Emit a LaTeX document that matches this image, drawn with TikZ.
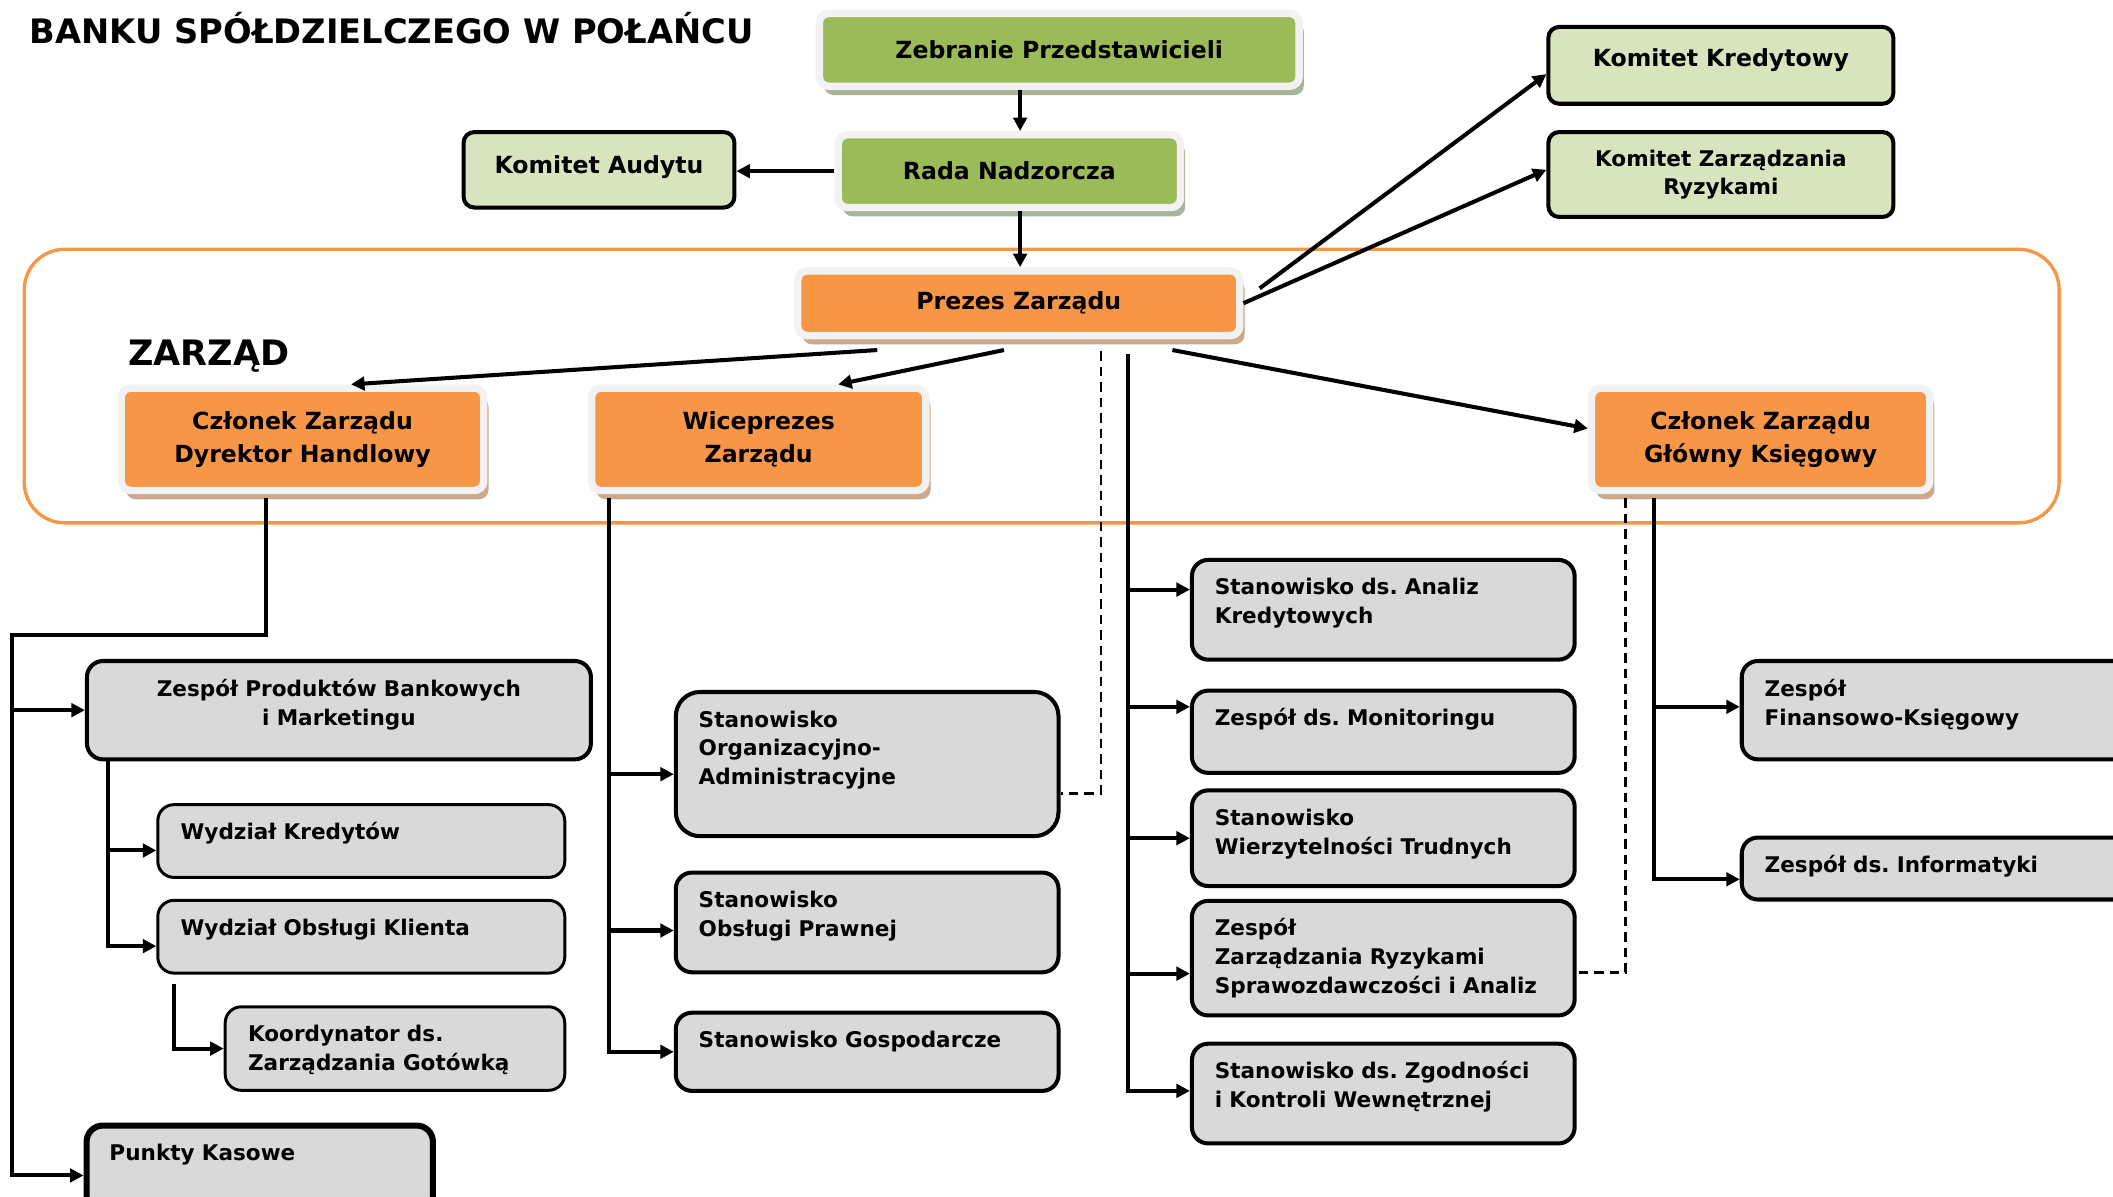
\documentclass[tikz,border=0pt]{standalone}
\usepackage{fontspec}
\setmainfont{DejaVu Sans}
\usetikzlibrary{arrows.meta,positioning,calc,shadows}
\frenchspacing

\definecolor{zgreen}{HTML}{9BBB59}
\definecolor{zlightgreen}{HTML}{D7E4BD}
\definecolor{zorange}{HTML}{F79646}
\definecolor{zgray}{HTML}{D9D9D9}
\definecolor{zrim}{HTML}{F2F2F2}
\definecolor{orangeshade}{HTML}{CDA88C}
\definecolor{greenshade}{HTML}{A9B59B}

\tikzset{
  boxfont/.style={font=\bfseries\fontsize{17.5}{24.5}\selectfont},
  smallfont/.style={font=\bfseries\fontsize{16}{21.5}\selectfont},
  rimbox/.style={boxfont, draw=zrim, line width=5.5pt, rounded corners=7pt, align=center, inner sep=0pt,
    drop shadow={shadow xshift=3.5pt, shadow yshift=-6.5pt, fill=#1, opacity=1}},
  greenbox/.style={rimbox=greenshade, fill=zgreen},
  orangebox/.style={rimbox=orangeshade, fill=zorange},
  komitet/.style={boxfont, draw=black, line width=3pt, fill=zlightgreen, rounded corners=8pt, align=center, inner sep=0pt},
  graybox/.style={smallfont, draw=black, line width=3pt, fill=zgray, rounded corners=12pt, anchor=north west,
    align=left, inner xsep=17pt, inner ysep=0pt, text height=26pt},
  conn/.style={line width=3pt},
  arr/.style={conn, -{Triangle[length=10pt,width=10pt]}},
  dashline/.style={line width=2pt, dash pattern=on 7pt off 4.5pt},
}

\begin{document}
\begin{tikzpicture}[x=1pt, y=-1pt]
  \useasboundingbox (0,0) rectangle (1568,888);
  \clip (0,0) rectangle (1568,888);

  % title and board frame
  \node (title) [anchor=west, inner sep=0pt, font=\bfseries\fontsize{25}{30}\selectfont] at (22,21) {BANKU SPÓŁDZIELCZEGO W POŁAŃCU};
  \draw[draw=zorange, line width=2.5pt, rounded corners=30pt] (18,185) rectangle (1528,388);
  \node (zarzad) [anchor=west, inner sep=0pt, font=\bfseries\fontsize{26}{30}\selectfont] at (95,264) {ZARZĄD};

  % supervisory bodies
  \node (zebranie) [greenbox, minimum width=356pt, minimum height=54pt] at (786,37) {Zebranie Przedstawicieli};
  \node (rada) [greenbox, minimum width=254pt, minimum height=54pt] at (749,127) {Rada Nadzorcza};
  \node (audyt) [komitet, minimum width=201pt, minimum height=56pt, text depth=8pt] at (444.5,126) {Komitet Audytu};
  \node (kredkom) [komitet, minimum width=256pt, minimum height=57pt, text depth=12pt] at (1277,48.5) {Komitet Kredytowy};
  \node (ryzkom) [komitet, minimum width=256pt, minimum height=63pt, font=\bfseries\fontsize{16}{21}\selectfont] at (1277,129.5) {Komitet Zarządzania\\Ryzykami};

  % board
  \node (prezes) [orangebox, minimum width=328pt, minimum height=48pt] at (756,225) {Prezes Zarządu};
  \node (dyrhandl) [orangebox, minimum width=269pt, minimum height=76pt] at (224.5,326) {Członek Zarządu\\Dyrektor Handlowy};
  \node (wicepr) [orangebox, minimum width=248pt, minimum height=76pt] at (563,326) {Wiceprezes\\Zarządu};
  \node (glksieg) [orangebox, minimum width=251pt, minimum height=76pt] at (1306.5,326) {Członek Zarządu\\Główny Księgowy};

  % units
  \node (produkty) [graybox, align=center, text width=340pt, text depth=47pt] at (63,489) {Zespół Produktów Bankowych\\i Marketingu};
  \node (wkred) [graybox, line width=2.2pt, text width=268pt, text depth=28pt] at (116,596) {Wydział Kredytów};
  \node (wobsl) [graybox, line width=2.2pt, text width=268pt, text depth=28pt] at (116,667) {Wydział Obsługi Klienta};
  \node (koord) [graybox, line width=2.2pt, text width=218pt, text depth=36pt] at (166,746) {Koordynator ds.\\Zarządzania Gotówką};
  \node (kasy) [graybox, line width=4.5pt, text width=223pt, text depth=38pt] at (62,833) {Punkty Kasowe};
  \node (orgadm) [graybox, rounded corners=18pt, text width=250pt, text depth=81pt] at (500,512) {Stanowisko\\Organizacyjno-\\Administracyjne};
  \node (prawna) [graybox, text width=250pt, text depth=48pt] at (500,646) {Stanowisko\\Obsługi Prawnej};
  \node (gosp) [graybox, text width=250pt, text depth=32pt] at (500,750) {Stanowisko Gospodarcze};
  \node (analizy) [graybox, text width=250pt, text depth=48pt] at (883,414) {Stanowisko ds. Analiz\\Kredytowych};
  \node (monit) [graybox, text width=250pt, text depth=35pt] at (883,511) {Zespół ds. Monitoringu};
  \node (wierzyt) [graybox, text width=250pt, text depth=45pt] at (883,585) {Stanowisko\\Wierzytelności Trudnych};
  \node (ryzyka) [graybox, text width=250pt, text depth=59pt] at (883,667) {Zespół\\Zarządzania Ryzykami\\Sprawozdawczości i Analiz};
  \node (zgodn) [graybox, text width=250pt, text depth=48pt] at (883,773) {Stanowisko ds. Zgodności\\i Kontroli Wewnętrznej};
  \node (finks) [graybox, text width=270pt, text depth=47pt] at (1291,489) {Zespół\\Finansowo-Księgowy};
  \node (inform) [graybox, text width=270pt, text depth=20pt] at (1291,620) {Zespół ds. Informatyki};

  % rails
  \coordinate (axis) at (757,0);
  \coordinate (spine) at ([shift={(81,11)}]prezes.south);
  \coordinate (dhrail) at (9,471);
  \coordinate (prail) at ([xshift=17pt]produkty.south west);
  \coordinate (wrail) at ([xshift=16pt]wicepr.south west);
  \coordinate (grail) at ([xshift=49pt]glksieg.south west);

  % top of the structure
  \draw[arr] (zebranie.south -| axis) -- (rada.north -| axis);
  \draw[arr] (rada.south -| axis) -- (prezes.north -| axis);
  \draw[arr] (rada.west) -- (rada.west -| audyt.east);
  \draw[arr] ([shift={(12,-11)}]prezes.east) -- ([shift={(0,6.5)}]kredkom.west);
  \draw[arr] (prezes.east) -- ([shift={(0,-3.5)}]ryzkom.west);
  \draw[arr] ([shift={(-105,8)}]prezes.south) -- ([shift={(36,0)}]dyrhandl.north);
  \draw[arr] ([shift={(-11,8)}]prezes.south) -- ([shift={(59,0)}]wicepr.north);
  \draw[arr] ([shift={(114,8)}]prezes.south) -- ([shift={(0,-8)}]glksieg.west);

  % Dyrektor Handlowy
  \draw[arr] ([shift={(-27,3)}]dyrhandl.south) |- (dhrail) |- ([yshift=-5pt]kasy.west);
  \draw[arr] (produkty.west -| dhrail) -- (produkty.west);
  \draw[arr] (prail) |- ([yshift=-7pt]wobsl.west);
  \draw[arr] ([yshift=-7pt]wkred.west -| prail) -- ([yshift=-7pt]wkred.west);
  \draw[arr] ([shift={(13,7)}]wobsl.south west) |- (koord.west);

  % Wiceprezes
  \draw[arr] ([yshift=-3pt]wrail) |- (gosp.west);
  \draw[arr] ([yshift=-7.5pt]orgadm.west -| wrail) -- ([yshift=-7.5pt]orgadm.west);
  \draw[arr] ([yshift=-6pt]prawna.west -| wrail) -- ([yshift=-6pt]prawna.west);

  % Prezes
  \draw[dashline] ([shift={(61,9)}]prezes.south) |- ([shift={(0,22)}]orgadm.east);
  \draw[arr] (spine) |- ([yshift=2pt]zgodn.west);
  \draw[arr] ([yshift=15pt]analizy.west -| spine) -- ([yshift=15pt]analizy.west);
  \draw[arr] ([yshift=18.5pt]monit.west -| spine) -- ([yshift=18.5pt]monit.west);
  \draw[arr] (wierzyt.west -| spine) -- (wierzyt.west);
  \draw[arr] ([yshift=-11.5pt]ryzyka.west -| spine) -- ([yshift=-11.5pt]ryzyka.west);

  % Glowny Ksiegowy
  \draw[arr] ([yshift=-3pt]grail) |- ([yshift=-8pt]inform.west);
  \draw[arr] ([yshift=2.5pt]finks.west -| grail) -- ([yshift=2.5pt]finks.west);
  \draw[dashline] ([shift={(28,3)}]glksieg.south west) |- ([yshift=-10.5pt]ryzyka.east);
\end{tikzpicture}
\end{document}
